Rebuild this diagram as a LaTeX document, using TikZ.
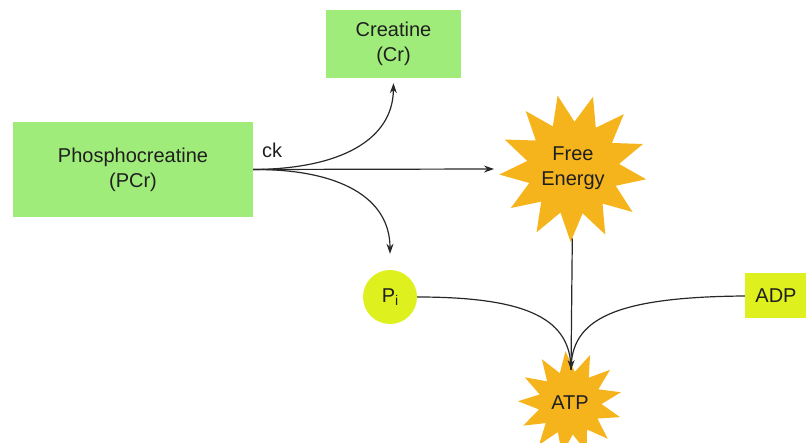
\documentclass[tikz,border=0pt]{standalone}
\usepackage{fontspec}
\setmainfont{Liberation Sans}
\usetikzlibrary{shapes.geometric,arrows.meta}
\definecolor{boxgreen}{RGB}{160,236,122}
\definecolor{limey}{RGB}{222,240,30}
\definecolor{burstc}{RGB}{246,180,28}
\definecolor{linec}{RGB}{40,40,40}
\begin{document}
\begin{tikzpicture}[x=1pt,y=-1pt,
  txt/.style={font=\fontsize{20}{25}\selectfont, text=black!88, align=center},
  gbox/.style={txt, rectangle, fill=boxgreen, inner sep=0pt},
  ybox/.style={txt, rectangle, fill=limey, inner sep=0pt},
  burst/.style={txt, star, fill=burstc, inner sep=0pt},
  conn/.style={draw=linec, line width=1.2pt},
  tip/.style={-{Stealth[length=10pt,width=7pt]}}]
\useasboundingbox (0,0) rectangle (806,443);
\node[gbox, minimum width=240pt, minimum height=95pt] (PCr) at (133,169.5) {Phosphocreatine\\(PCr)};
\node[gbox, minimum width=135pt, minimum height=68pt] (Cr) at (393.5,44) {Creatine\\(Cr)};
\node[ybox, minimum width=62pt, minimum height=45pt] (ADP) at (776,296) {ADP};
\node[txt, circle, fill=limey, minimum size=54pt, inner sep=0pt] (Pi) at (390,297) {P\raisebox{-0.35ex}{\fontsize{14}{14}\selectfont i}};
\node[burst, star points=13, star point ratio=1.6, minimum size=148pt, shape border rotate=12] (FE) at (573,168) {Free\\Energy};
\node[burst, star points=13, star point ratio=1.65, minimum size=104pt, shape border rotate=5] (ATP) at (570,403) {ATP};
\node[txt, anchor=center] (ck) at (272,150) {ck};
\coordinate (fein) at (494,169);
\coordinate (m) at (571,370);
\draw[conn,tip] (PCr.east) -- (fein);
\draw[conn,tip,shorten >=5pt] (PCr.east) .. controls (340,169) and (393,140) .. (Cr.south);
\draw[conn,tip,shorten >=16pt] (PCr.east) .. controls (340,169) and (390,198) .. (Pi.north);
\draw[conn] (Pi.east) .. controls (530,297) and (571,320) .. (m);
\draw[conn] (ADP.west) .. controls (612,297) and (571,320) .. (m);
\draw[conn,tip] (FE) -- (m);
\end{tikzpicture}
\end{document}
